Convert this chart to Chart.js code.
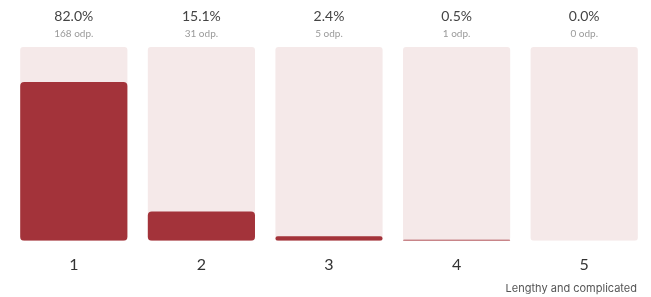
<!DOCTYPE html>
<html lang="pl">
<head>
<meta charset="UTF-8">
<title>Rating distribution</title>
<style>
    html, body { margin: 0; padding: 0; background: #fff; }
    .wrap { position: relative; width: 651px; height: 297px; }
    .note { position: absolute; right: 14px; top: 281px; font: 11px Inter, "Open Sans", sans-serif; color: #555; }
</style>
</head>
<body>
<div class="wrap">
    <canvas id="chart" width="651" height="297"></canvas>
    <div class="note">Lengthy and complicated</div>
</div>
<script src="https://cdn.jsdelivr.net/npm/chart.js"></script>
<script>
const categories = ['1', '2', '3', '4', '5'];
const shares = [82.0, 15.1, 2.4, 0.5, 0.0];
const counts = [168, 31, 5, 1, 0];
const full = [100, 100, 100, 100, 100];

// percent + answer count above each column
const topLabels = {
    id: 'topLabels',
    afterDatasetsDraw(chart) {
        const ctx = chart.ctx;
        const bars = chart.getDatasetMeta(1).data;
        ctx.save();
        ctx.textAlign = 'center';
        ctx.textBaseline = 'middle';
        bars.forEach((bar, i) => {
            ctx.fillStyle = '#444';
            ctx.font = '14px Lato, "Open Sans", sans-serif';
            ctx.fillText(shares[i].toFixed(1) + '%', bar.x, 16);
            ctx.fillStyle = '#9a9a9a';
            ctx.font = '10px Lato, "Open Sans", sans-serif';
            ctx.fillText(counts[i] + ' odp.', bar.x, 34);
        });
        ctx.restore();
    }
};

new Chart(document.getElementById('chart'), {
    type: 'bar',
    data: {
        labels: categories,
        datasets: [
            {
                data: shares,
                backgroundColor: '#a3333a',
                borderRadius: 4,
                borderSkipped: false,
                grouped: false,
                order: 0,
                barPercentage: 0.84,
                categoryPercentage: 1
            },
            {
                data: full,
                backgroundColor: '#f5e9e9',
                borderRadius: 3,
                borderSkipped: false,
                grouped: false,
                order: 1,
                barPercentage: 0.84,
                categoryPercentage: 1
            }
        ]
    },
    options: {
        responsive: false,
        animation: false,
        layout: { padding: { top: 47, left: 10, right: 3, bottom: 17 } },
        plugins: { legend: { display: false }, tooltip: { enabled: false } },
        scales: {
            x: {
                grid: { display: false },
                border: { display: false },
                ticks: { color: '#333', font: { size: 16, family: 'Lato, "Open Sans", sans-serif' }, padding: 6 }
            },
            y: { display: false, min: 0, max: 100 }
        }
    },
    plugins: [topLabels]
});
</script>
</body>
</html>
